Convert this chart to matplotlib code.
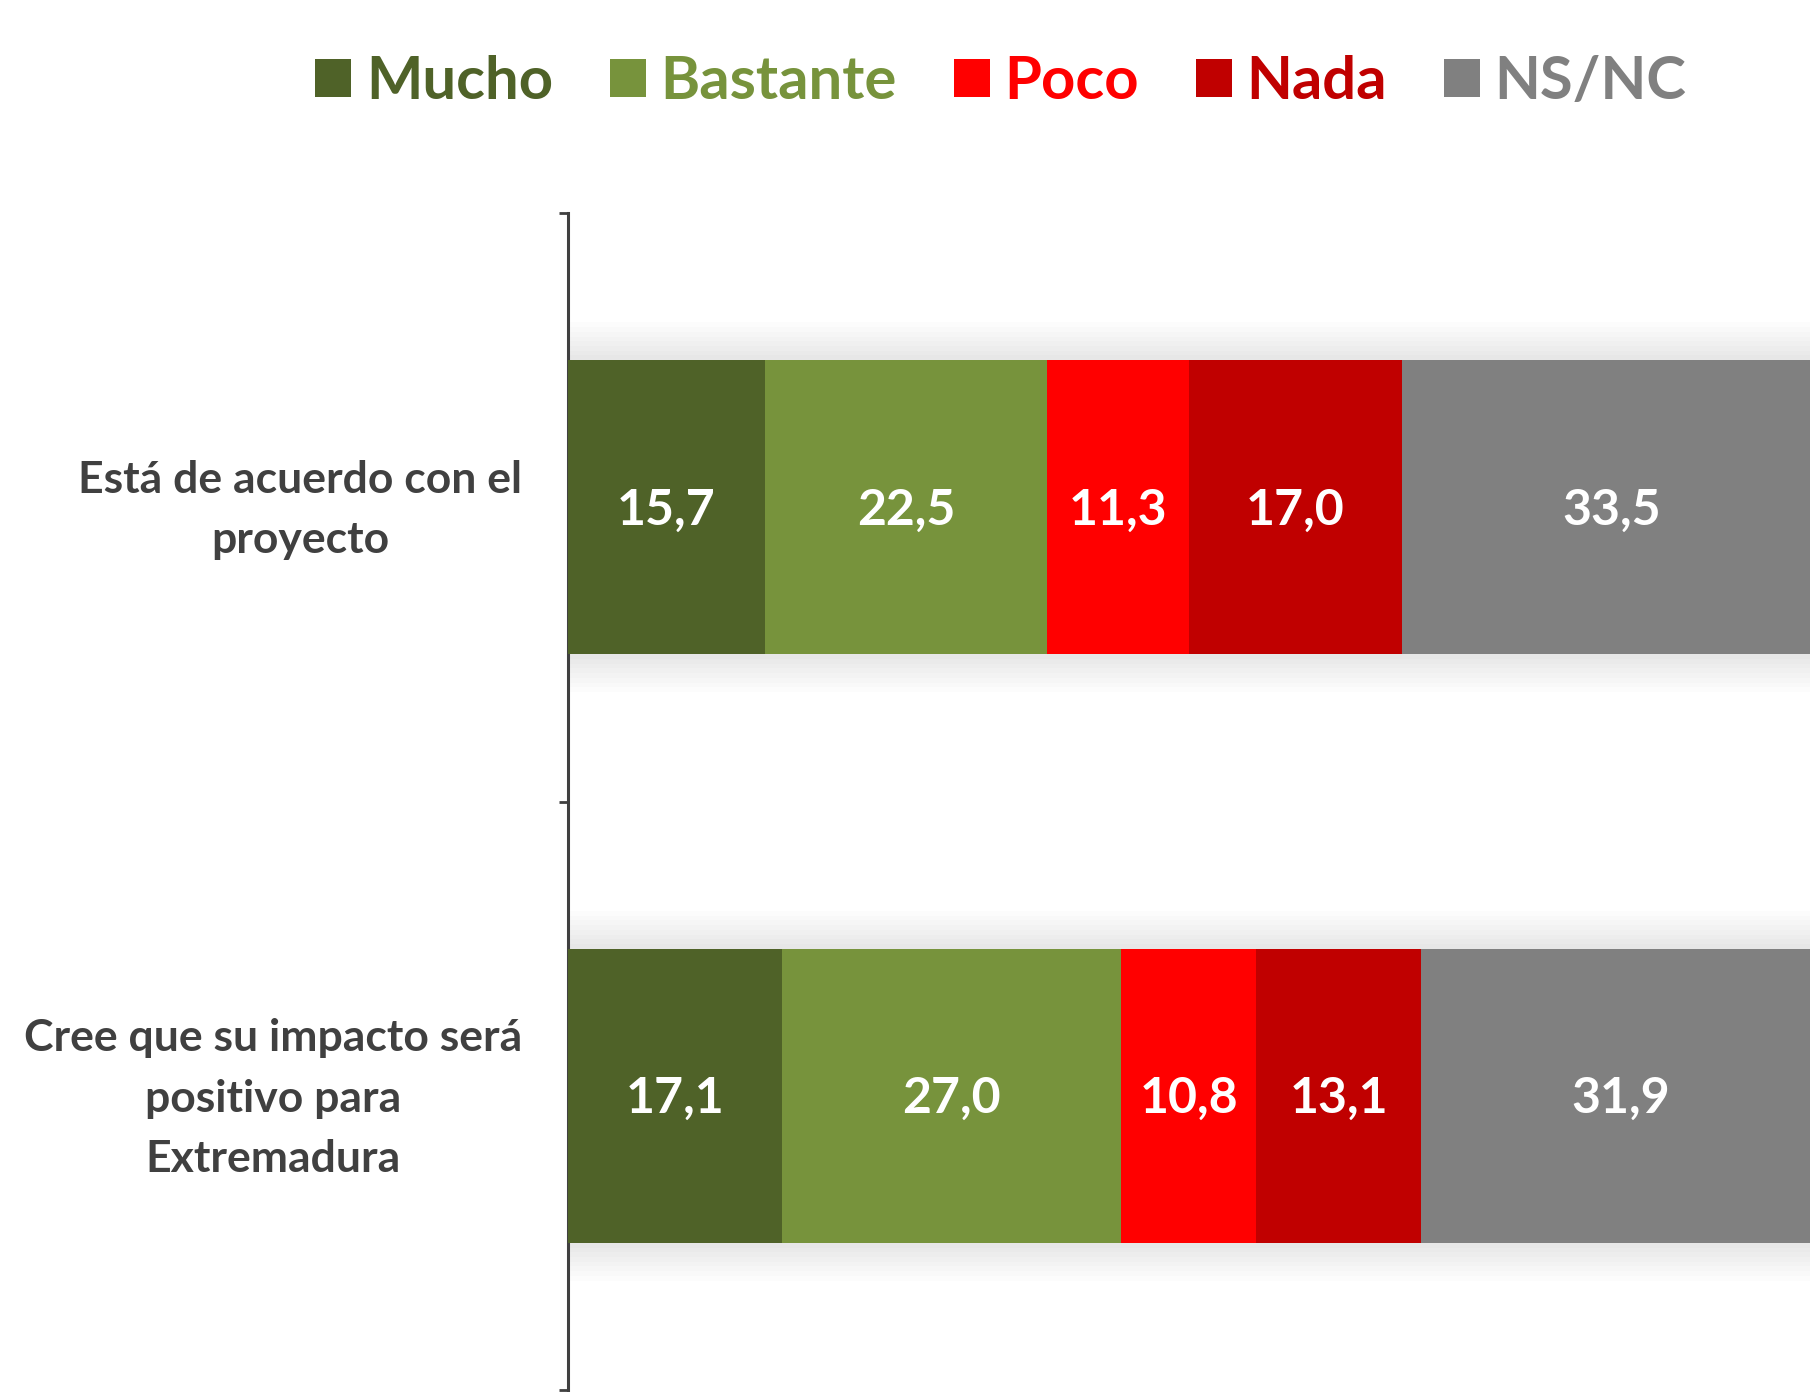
import matplotlib
matplotlib.use('Agg')
import matplotlib.pyplot as plt
import matplotlib.transforms as mtransforms
from matplotlib.patches import Patch
import numpy as np

plt.rcParams['font.family'] = ['Lato', 'DejaVu Sans']

categories = ['Está de acuerdo con el\nproyecto',
              'Cree que su impacto será\npositivo para\nExtremadura']
series = ['Mucho', 'Bastante', 'Poco', 'Nada', 'NS/NC']
colors = ['#4F6228', '#77933C', '#FF0000', '#C00000', '#808080']
values = {
    'Mucho':    [15.7, 17.1],
    'Bastante': [22.5, 27.0],
    'Poco':     [11.3, 10.8],
    'Nada':     [17.0, 13.1],
    'NS/NC':    [33.5, 31.9],
}

fig = plt.figure(figsize=(18.1, 13.92), dpi=100)
ax = fig.add_axes([568 / 1810, 2 / 1392, 1254 / 1810, 1177 / 1392])

y = np.arange(len(categories))
bar_h = 0.5
totals = np.sum([values[s] for s in series], axis=0)

# soft shadow around the bars
for k in range(1, 9):
    ax.barh(y, totals, height=bar_h + 0.016 * k, color='#808080', alpha=0.022,
            edgecolor='none', zorder=1)

left = np.zeros(len(categories))
for s, c in zip(series, colors):
    vals = np.array(values[s])
    ax.barh(y, vals, left=left, height=bar_h, color=c, edgecolor='none', zorder=3)
    for v, l, yy in zip(vals, left, y):
        ax.text(l + v / 2, yy + 0.005, f'{v:.1f}'.replace('.', ','), ha='center', va='center',
                color='white', fontsize=36, fontweight='bold', zorder=4)
    left += vals

ax.set_xlim(0, 100)
ax.set_ylim(1.5, -0.5)
ax.set_xticks([])
ax.set_yticks(y)
ax.set_yticklabels([])
ax.tick_params(axis='y', which='major', length=0)
ax.set_yticks([-0.5, 0.5, 1.5], minor=True)
ax.tick_params(axis='y', which='minor', length=6.5, width=2, color='#404040', direction='out')

# category labels, centred lines, right edge left of the axis
trans = mtransforms.blended_transform_factory(ax.transAxes, ax.transData)
trans = trans + mtransforms.ScaledTranslation(-46 / 100, -3 / 100, fig.dpi_scale_trans)
for cat, yy in zip(categories, y):
    ax.text(0, yy, cat, transform=trans, ha='right', va='center', multialignment='center',
            fontsize=32, fontweight='bold', color='#404040', linespacing=1.62)

for sp in ['top', 'right', 'bottom']:
    ax.spines[sp].set_visible(False)
ax.spines['left'].set_color('#404040')
ax.spines['left'].set_linewidth(2.2)

handles = [Patch(facecolor=c, edgecolor='none') for c in colors]
leg = fig.legend(handles, series, loc='center', bbox_to_anchor=(0.553, 0.941), ncol=5,
                 frameon=False, prop={'size': 43, 'weight': 'bold'},
                 handlelength=0.6, handleheight=0.6, handletextpad=0.25,
                 columnspacing=0.95, labelcolor=colors)

fig.savefig('out.png', dpi=100)
